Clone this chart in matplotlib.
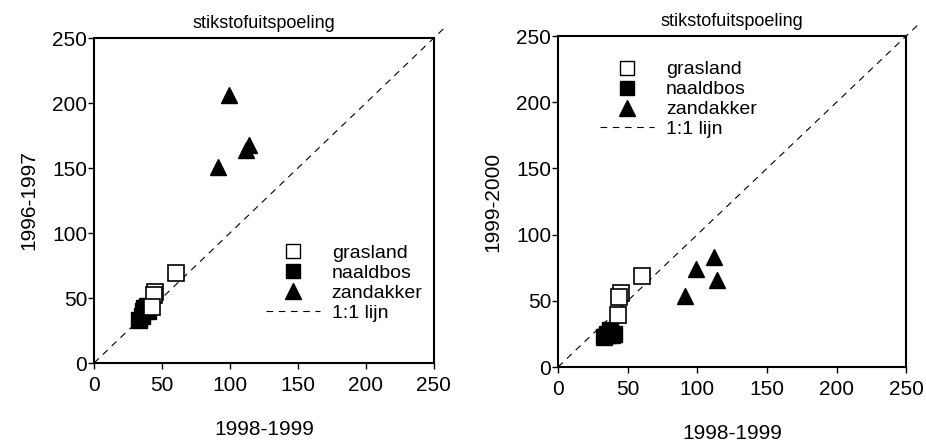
import matplotlib.pyplot as plt
from matplotlib.lines import Line2D

plt.rcParams['font.family'] = ['Liberation Sans', 'DejaVu Sans']

# x: 1998-1999, y: 1996-1997 (left) and 1999-2000 (right)
gras_x = [60, 45, 44, 43]
gras_y9697 = [69, 55, 52, 43]
gras_y9900 = [69, 56, 53, 39]

naald_x = [33, 35, 37, 39, 40, 36]
naald_y9697 = [33, 36, 42, 44, 40, 40]
naald_y9900 = [23, 25, 28, 24, 25, 24]

zand_x = [91, 99, 112, 114]
zand_y9697 = [151, 206, 164, 168]
zand_y9900 = [54, 74, 83, 66]

title = "stikstofuitspoeling"
ticks = [0, 50, 100, 150, 200, 250]

fig = plt.figure(figsize=(9.26, 4.44), dpi=100)
ax1 = fig.add_axes([0.1015, 0.1824, 0.367, 0.732])
ax2 = fig.add_axes([0.6026, 0.1734, 0.376, 0.7455])

dash = (0, (6, 5))


def draw(ax, gy, ny, zy, ylabel, legend_anchor, xlabelpad):
    ax.plot([0, 258], [0, 258], ls=dash, color='black', lw=0.8, clip_on=False)
    ax.plot(naald_x, ny, 's', ms=11, mfc='black', mec='black', clip_on=False)
    ax.plot(gras_x, gy, 's', ms=11, mfc='white', mec='black', mew=1.2, clip_on=False)
    ax.plot(zand_x, zy, '^', ms=12, mfc='black', mec='black', clip_on=False)
    ax.set_xlim(0, 250)
    ax.set_ylim(0, 250)
    ax.set_xticks(ticks)
    ax.set_yticks(ticks)
    ax.tick_params(direction='out', length=4, width=1, labelsize=15)
    ax.tick_params(axis='x', pad=5)
    ax.tick_params(axis='y', pad=1)
    for s in ax.spines.values():
        s.set_linewidth(1.5)
    ax.set_xlabel("1998-1999", fontsize=15, labelpad=xlabelpad)
    ax.set_ylabel(ylabel, fontsize=15, labelpad=10)
    ax.set_title(title, fontsize=13, pad=7)
    handles = [
        Line2D([], [], ls='none', marker='s', ms=10, mfc='white', mec='black'),
        Line2D([], [], ls='none', marker='s', ms=10, mfc='black', mec='black'),
        Line2D([], [], ls='none', marker='^', ms=11, mfc='black', mec='black'),
        Line2D([], [], ls=dash, color='black', lw=0.8),
    ]
    ax.legend(handles, ["grasland", "naaldbos", "zandakker", "1:1 lijn"],
              loc='upper left', bbox_to_anchor=legend_anchor, frameon=False,
              fontsize=14, handlelength=2.8, handletextpad=0.6,
              labelspacing=0.12, borderpad=0, borderaxespad=0)


draw(ax1, gras_y9697, naald_y9697, zand_y9697, "1996-1997", (0.505, 0.365), 18)
draw(ax2, gras_y9900, naald_y9900, zand_y9900, "1999-2000", (0.12, 0.925), 18)

fig.savefig("out.png", dpi=100)
